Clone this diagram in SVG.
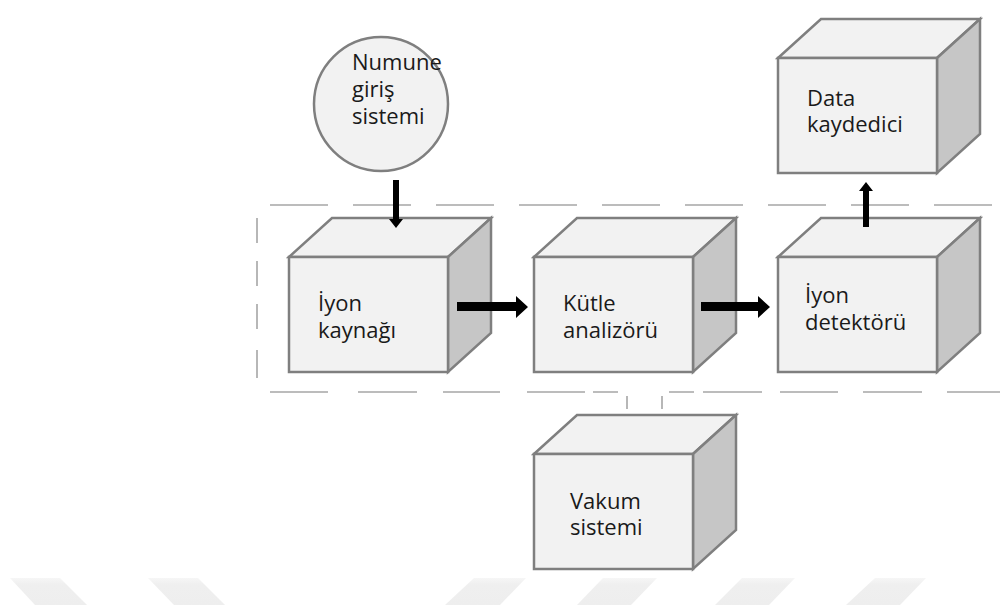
<svg xmlns="http://www.w3.org/2000/svg" xmlns:xlink="http://www.w3.org/1999/xlink" width="1000" height="610" viewBox="0 0 1000 610">
  <style>
    .face { stroke: #7f7f7f; stroke-width: 2.5; stroke-linejoin: miter; }
    .front { fill: #f2f2f2; }
    .top { fill: #f2f2f2; }
    .side { fill: #c6c6c6; }
    .label { font-family: "Open Sans", "Liberation Sans", sans-serif; font-size: 22px; fill: #1a1a1a; }
    .frame { stroke: #a6a6a6; stroke-width: 1.6; fill: none; }
    .arrow { fill: #000000; }
    .mark { fill: url(#bandFade); }
  </style>
  <defs>
    <linearGradient id="bandFade" x1="0" y1="0" x2="0" y2="1">
      <stop offset="0" stop-color="#f6f6f6"/>
      <stop offset="0.25" stop-color="#efefef"/>
      <stop offset="1" stop-color="#eeeeee"/>
    </linearGradient>
    <!-- box drawn from the top-left corner of its front face -->
    <g id="cube">
      <polygon class="face top" points="0,0 43,-39 202,-39 159,0"/>
      <polygon class="face side" points="159,0 202,-39 202,76 159,115"/>
      <rect class="face front" x="0" y="0" width="159" height="115"/>
    </g>
  </defs>

  <rect width="1000" height="610" fill="#ffffff"/>

  <!-- faint bands along the bottom edge -->
  <g id="bottom-bands">
    <polygon class="mark" points="10,578 60,578 87,605 35,605"/>
    <polygon class="mark" points="148,578 198,578 225,605 174,605"/>
    <polygon class="mark" points="474,578 526,578 500,605 445,605"/>
    <polygon class="mark" points="603,578 657,578 631,605 577,605"/>
    <polygon class="mark" points="742,578 795,578 769,605 715,605"/>
    <polygon class="mark" points="875,578 926,578 900,605 846,605"/>
  </g>

  <!-- dashed enclosure of the vacuum section -->
  <g id="vacuum-frame">
    <line class="frame" x1="270" y1="205" x2="1000" y2="205" stroke-dasharray="58 25"/>
    <path class="frame" d="M257 218V243M257 261V286M257 304V329M257 350V378"/>
    <path class="frame" d="M270 392H328M358 392H417M443 392H500M527 392H585M593 392H618M669 392H694M703 392H762M780 392H838M863 392H922M947 392H1000"/>
    <path class="frame" d="M627 396V409M662 396V409"/>
  </g>

  <g id="node-numune-giris">
    <circle cx="381" cy="104" r="67" fill="#f2f2f2" stroke="#7f7f7f" stroke-width="2.5"/>
    <text class="label" x="352" y="70">Numune<tspan x="352" dy="27">giriş</tspan><tspan x="352" dy="27">sistemi</tspan></text>
  </g>

  <g id="node-iyon-kaynagi">
    <use xlink:href="#cube" href="#cube" x="289" y="257"/>
    <text class="label" x="318" y="311">İyon<tspan x="318" dy="27">kaynağı</tspan></text>
  </g>

  <g id="node-kutle-analizoru">
    <use xlink:href="#cube" href="#cube" x="534" y="257"/>
    <text class="label" x="563" y="311">Kütle<tspan x="563" dy="27">analizörü</tspan></text>
  </g>

  <g id="node-iyon-detektoru">
    <use xlink:href="#cube" href="#cube" x="778" y="257"/>
    <text class="label" x="805" y="303">İyon<tspan x="805" dy="27">detektörü</tspan></text>
  </g>

  <g id="node-data-kaydedici">
    <use xlink:href="#cube" href="#cube" x="778" y="58"/>
    <text class="label" x="807" y="106">Data<tspan x="807" dy="26">kaydedici</tspan></text>
  </g>

  <g id="node-vakum-sistemi">
    <use xlink:href="#cube" href="#cube" x="534" y="454"/>
    <text class="label" x="570" y="509">Vakum<tspan x="570" dy="26">sistemi</tspan></text>
  </g>

  <!-- connectors, drawn over the boxes they touch -->
  <g id="connectors">
    <!-- sample inlet to ion source -->
    <polygon class="arrow" points="393,180 399,180 399,219 403,219 396,228 389,219 393,219"/>
    <!-- ion source to mass analyzer -->
    <polygon class="arrow" points="457,302 516,302 516,296 528,307 516,318 516,311 457,311"/>
    <!-- mass analyzer to ion detector -->
    <polygon class="arrow" points="701,302 758,302 758,296 770,307 758,318 758,311 701,311"/>
    <!-- ion detector to data recorder -->
    <polygon class="arrow" points="863,227 869,227 869,191 873,191 866,182 859,191 863,191"/>
  </g>
</svg>
